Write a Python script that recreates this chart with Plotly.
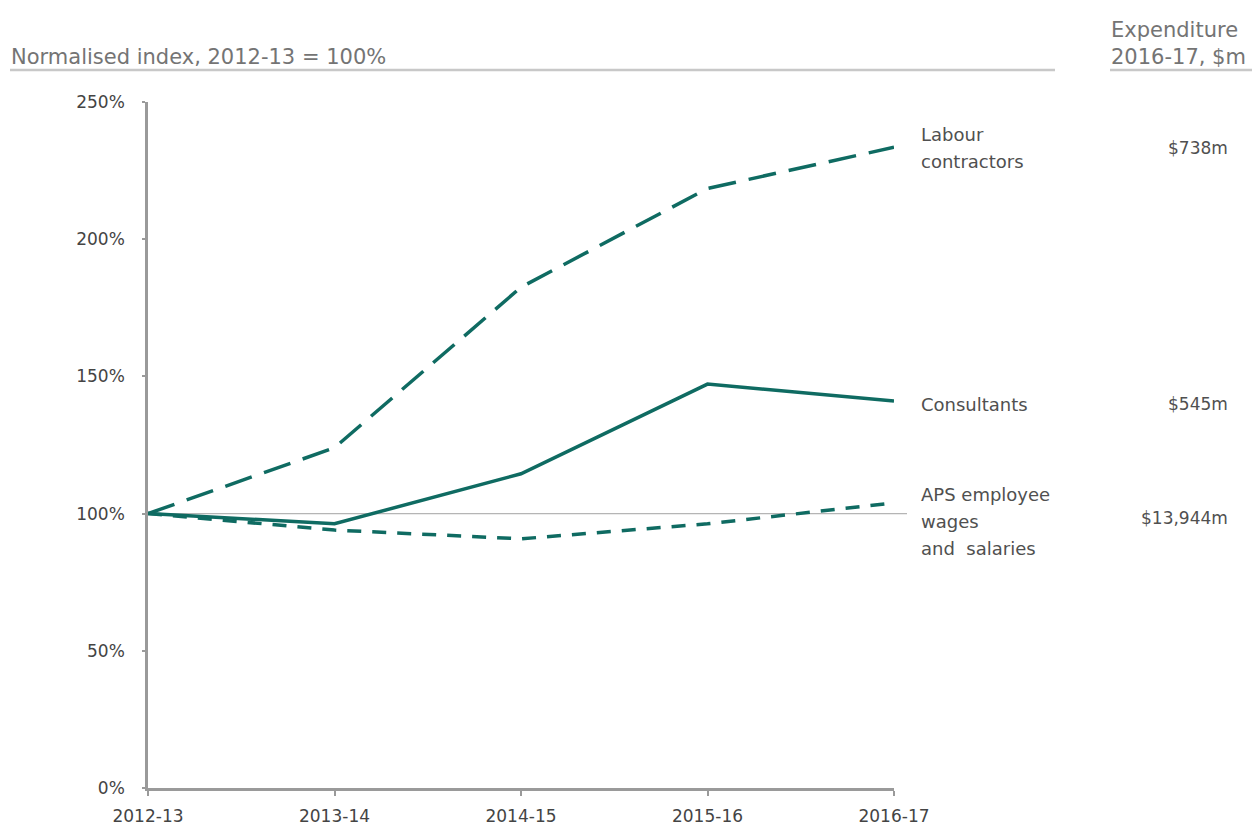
import plotly.graph_objects as go

# Financial years and normalised index values (2012-13 = 100%)
years = ["2012-13", "2013-14", "2014-15", "2015-16", "2016-17"]
labour_contractors = [100, 124, 182.5, 218.5, 233.5]
consultants = [100, 96.3, 114.5, 147.2, 141.0]
aps_wages = [100, 94.0, 90.8, 96.3, 103.9]

y_ticks = [0, 50, 100, 150, 200, 250]
y_tick_text = ["0%", "50%", "100%", "150%", "200%", "250%"]

series_labels = [["Labour", "contractors"], ["Consultants"],
                 ["APS employee", "wages", "and  salaries"]]
expenditure_labels = ["$738m", "$545m", "$13,944m"]

W, H = 1259, 829
L, R, T, B = 148, 894, 102, 788
TEAL = "#0f6b62"
GREY_TEXT = "#505050"
FONT = "DejaVu Sans"
LINE_GAP = 27


def px(x):
    return (x - L) / (R - L)


def py(y):
    return (B - y) / (B - T)


fig = go.Figure()
xs = list(range(len(years)))

fig.add_trace(go.Scatter(x=xs, y=labour_contractors, mode="lines",
                         line=dict(color=TEAL, width=3.5, dash="28px,13px"),
                         hoverinfo="skip"))
fig.add_trace(go.Scatter(x=xs, y=consultants, mode="lines",
                         line=dict(color=TEAL, width=3.5),
                         hoverinfo="skip"))
fig.add_trace(go.Scatter(x=xs, y=aps_wages, mode="lines",
                         line=dict(color=TEAL, width=3.5, dash="14px,11px"),
                         hoverinfo="skip"))

shapes = [
    # 100% reference line running out to the labels
    dict(type="line", xref="paper", yref="y", x0=0, x1=px(907), y0=100, y1=100,
         line=dict(color="#b5b5b5", width=1.2), layer="below"),
    # header underlines
    dict(type="line", xref="paper", yref="paper", x0=px(10), x1=px(1055),
         y0=py(70), y1=py(70), line=dict(color="#c8c8c8", width=2.5)),
    dict(type="line", xref="paper", yref="paper", x0=px(1110), x1=px(1252),
         y0=py(70), y1=py(70), line=dict(color="#c8c8c8", width=2.5)),
]

header_font = dict(size=21, color="#747474")
annotations = [
    dict(text="Normalised index, 2012-13 = 100%", x=px(9), y=py(57), xanchor="left",
         yanchor="middle", font=header_font),
    dict(text="Expenditure", x=px(1109), y=py(30), xanchor="left",
         yanchor="middle", font=header_font),
    dict(text="2016-17, $m", x=px(1109), y=py(57), xanchor="left",
         yanchor="middle", font=header_font),
]

label_top = [134, 404, 494]
money_y = [148, 404, 518]
for lines, money, top, my in zip(series_labels, expenditure_labels, label_top, money_y):
    for i, line in enumerate(lines):
        annotations.append(dict(text=line, x=px(919), y=py(top + i * LINE_GAP),
                                xanchor="left", yanchor="middle",
                                font=dict(size=18, color=GREY_TEXT)))
    annotations.append(dict(text=money, x=px(1230), y=py(my), xanchor="right",
                            yanchor="middle", font=dict(size=17, color=GREY_TEXT)))

for a in annotations:
    a.update(xref="paper", yref="paper", showarrow=False)

fig.update_layout(
    width=W, height=H,
    margin=dict(l=L, r=W - R, t=T, b=H - B, pad=0, autoexpand=False),
    paper_bgcolor="white", plot_bgcolor="white",
    showlegend=False,
    font=dict(family=FONT, color=GREY_TEXT, size=16),
    shapes=shapes, annotations=annotations,
    xaxis=dict(range=[0, 4], tickvals=xs, ticktext=years, showgrid=False, zeroline=False,
               showline=True, linecolor="#9a9a9a", linewidth=2.5, ticks="outside",
               ticklen=5, tickwidth=2, tickcolor="#9a9a9a", ticklabelstandoff=6,
               tickfont=dict(size=17, color="#444444"), fixedrange=True, automargin=False),
    yaxis=dict(range=[0, 250], tickvals=y_ticks, ticktext=y_tick_text, showgrid=False,
               zeroline=False, showline=True, linecolor="#9a9a9a", linewidth=2.5,
               ticks="outside", ticklen=3, tickwidth=2, tickcolor="#9a9a9a",
               tickfont=dict(size=17, color="#444444"), ticklabelstandoff=14,
               fixedrange=True, automargin=False),
)

fig.write_html("out.html")
